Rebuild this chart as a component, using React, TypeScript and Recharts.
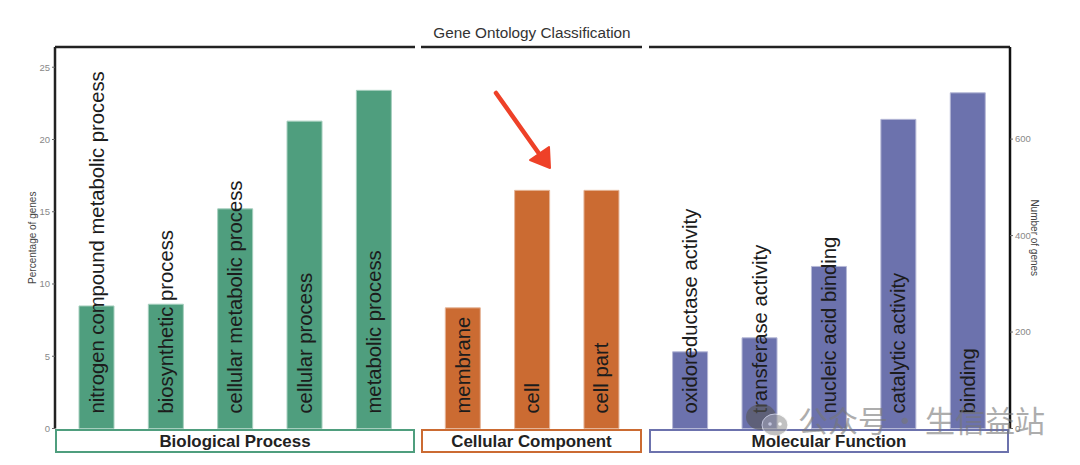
import { BarChart, Bar, XAxis, YAxis, LabelList } from "recharts";

const FONT = "'Liberation Sans', Arial, sans-serif";

const bpTerms = ["nitrogen compound metabolic process", "biosynthetic process", "cellular metabolic process", "cellular process", "metabolic process"];
const bpValues = [8.48, 8.6, 15.2, 21.27, 23.4];
const ccTerms = ["membrane", "cell", "cell part"];
const ccValues = [8.35, 16.48, 16.48];
const mfTerms = ["oxidoreductase activity", "transferase activity", "nucleic acid binding", "catalytic activity", "binding"];
// molecular function bars (number of genes)
const mfCounts = [159, 188, 336, 641, 696];

const percentTicks = [0, 5, 10, 15, 20, 25];
const geneTicks = [0, 200, 400, 600];
const PERCENT_MAX = 26.4;
const GENE_MAX = 791;

const GREEN = "#4F9E7E";
const ORANGE = "#CB6B32";
const PURPLE = "#6C72AD";

const CHART_H = 465;
const TOP = 46;
const BOTTOM = 36.5;

const toRows = (terms: string[], values: number[]) => terms.map((term, i) => ({ term, value: values[i] }));

function TermLabel(props: any) {
  const { x, y, width, height, value } = props;
  const cx = x + width / 2 + 7;
  const cy = y + height - 15;
  return (
    <text x={cx} y={cy} transform={`rotate(-90 ${cx} ${cy})`} fontSize={20.25} fontFamily={FONT} fill="#1c1c1c">
      {value}
    </text>
  );
}

const tickStyle = { fontSize: 9.5, fill: "#888", fontFamily: FONT };

function Panel({ left, width, rows, color, edge, padding, axisId, children }: any) {
  return (
    <div style={{ position: "absolute", left, top: 0 }}>
      <BarChart
        width={width}
        height={CHART_H}
        data={rows}
        margin={{ top: TOP, bottom: BOTTOM, left: 0, right: 0 }}
      >
        <XAxis
          dataKey="term"
          orientation="top"
          height={1}
          tick={false}
          tickLine={false}
          padding={padding}
          axisLine={{ stroke: "#222", strokeWidth: 2.5 }}
        />
        {children}
        <Bar dataKey="value" yAxisId={axisId} barSize={35} fill={color} stroke={edge} strokeWidth={1} isAnimationActive={false}>
          <LabelList dataKey="term" content={TermLabel} />
        </Bar>
      </BarChart>
    </div>
  );
}

function Strip({ left, width, color, text }: any) {
  return (
    <div
      style={{
        position: "absolute",
        left,
        top: 429,
        width,
        height: 20,
        border: `2px solid ${color}`,
        fontFamily: FONT,
        fontWeight: 700,
        fontSize: 16.9,
        lineHeight: "21px",
        textAlign: "center",
        color: "#222",
        background: "#fff",
      }}
    >
      {text}
    </div>
  );
}

export default function App() {
  return (
    <div style={{ position: "absolute", left: 0, top: 0, width: 1080, height: CHART_H, background: "#fff", overflow: "hidden" }}>
      <div
        style={{
          position: "absolute",
          left: 332,
          width: 400,
          top: 24,
          textAlign: "center",
          fontFamily: FONT,
          fontSize: 15.3,
          lineHeight: "18px",
          color: "#333",
        }}
      >
        Gene Ontology Classification
      </div>

      <Panel
        left={0}
        width={415}
        rows={toRows(bpTerms, bpValues)}
        color={GREEN}
        edge="#A6CFBE"
        padding={{ left: 7, right: 6.3 }}
        axisId="pct"
      >
        <YAxis
          yAxisId="pct"
          width={55}
          domain={[0, PERCENT_MAX]}
          ticks={percentTicks}
          tick={tickStyle}
          tickSize={3}
          tickLine={{ stroke: "#666" }}
          axisLine={{ stroke: "#222", strokeWidth: 2.5 }}
          label={{ value: "Percentage of genes", angle: -90, position: "insideLeft", offset: 32, fill: "#444", fontSize: 10, fontFamily: FONT, style: { textAnchor: "middle" } }}
        />
      </Panel>

      <Panel
        left={421}
        width={221}
        rows={toRows(ccTerms, ccValues)}
        color={ORANGE}
        edge="#E5B598"
        padding={{ left: 7.3, right: 5.7 }}
        axisId="pct"
      >
        <YAxis yAxisId="pct" hide domain={[0, PERCENT_MAX]} />
      </Panel>

      <Panel
        left={649}
        width={431}
        rows={toRows(mfTerms, mfCounts)}
        color={PURPLE}
        edge="#B5B8D6"
        padding={{ left: 6.6, right: 7.3 }}
        axisId="genes"
      >
        <YAxis
          yAxisId="genes"
          orientation="right"
          width={70}
          domain={[0, GENE_MAX]}
          ticks={geneTicks}
          tick={tickStyle}
          tickSize={3}
          tickLine={{ stroke: "#666" }}
          axisLine={{ stroke: "#111", strokeWidth: 2.5 }}
          label={{ value: "Number of genes", angle: 90, position: "insideRight", offset: 45, fill: "#444", fontSize: 10, fontFamily: FONT, style: { textAnchor: "middle" } }}
        />
      </Panel>

      <Strip left={55} width={356} color={GREEN} text="Biological Process" />
      <Strip left={421} width={217} color={ORANGE} text="Cellular Component" />
      <Strip left={649} width={356} color={PURPLE} text="Molecular Function" />

      {/* hand-drawn annotation and watermark sitting on top of the figure */}
      <svg width={1080} height={465} style={{ position: "absolute", left: 0, top: 0, pointerEvents: "none" }}>
        <line x1={496} y1={93} x2={540} y2={155} stroke="#EE4128" strokeWidth={4.5} strokeLinecap="round" />
        <polygon points="550,168 549,147 530,160" fill="#EE4128" stroke="#EE4128" strokeWidth={2} strokeLinejoin="round" />
        <g opacity={0.6} fontFamily="'Noto Sans CJK SC'" fontSize={30} fill="#777">
          <ellipse cx={761} cy={417} rx={15} ry={13} fill="#555" />
          <ellipse cx={775} cy={425} rx={13} ry={11} fill="#999" stroke="#fff" strokeWidth={1} />
          <circle cx={770} cy={424} r={1.8} fill="#fff" />
          <circle cx={780} cy={424} r={1.8} fill="#fff" />
          <text x={798} y={432}>公众号</text>
          <text x={905} y={432} textAnchor="middle">·</text>
          <text x={925} y={432}>生信益站</text>
        </g>
      </svg>
    </div>
  );
}
